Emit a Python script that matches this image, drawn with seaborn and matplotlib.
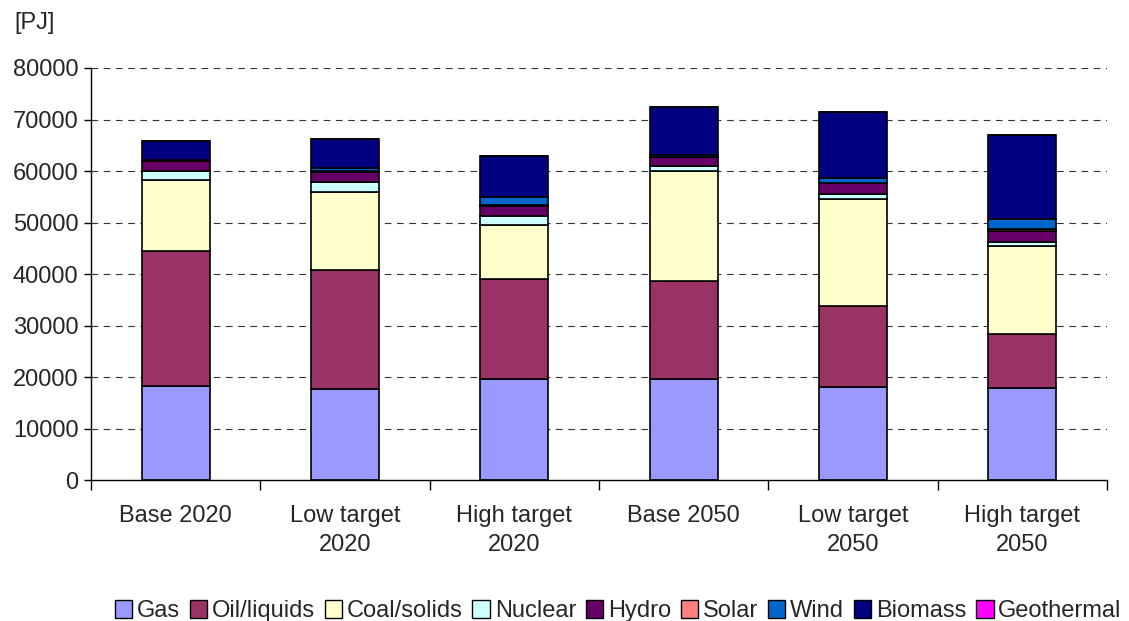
import numpy as np
import pandas as pd
import matplotlib
matplotlib.use('Agg')
import matplotlib.pyplot as plt
import seaborn as sns
from matplotlib.patches import Patch

scenarios = ["Base 2020", "Low target\n2020", "High target\n2020",
             "Base 2050", "Low target\n2050", "High target\n2050"]
fuels = ["Gas", "Oil/liquids", "Coal/solids", "Nuclear", "Hydro",
         "Solar", "Wind", "Biomass", "Geothermal"]
colors = ["#9999FF", "#993366", "#FFFFCC", "#CCFFFF", "#660066",
          "#FF8080", "#0066CC", "#000080", "#FF00FF"]

gas = [18200, 17700, 19700, 19700, 18000, 17800]
oil = [26300, 23000, 19300, 19000, 15800, 10500]
coal = [13750, 15300, 10500, 21300, 20800, 17200]
nuclear = [1750, 1800, 1800, 900, 900, 700]
hydro = [2000, 2100, 2000, 1800, 2100, 2200]
solar = [50, 50, 50, 50, 50, 300]
wind = [100, 600, 1600, 300, 1000, 1900]
biomass = [3600, 5600, 8000, 9400, 12900, 16400]
geothermal = [0, 0, 0, 0, 0, 0]

series = [gas, oil, coal, nuclear, hydro, solar, wind, biomass, geothermal]

sns.set_style("white")
plt.rcParams['font.family'] = ['Liberation Sans', 'DejaVu Sans']

fig = plt.figure(figsize=(11.29, 6.21), dpi=100)
ax = fig.add_axes([0.0806, 0.227, 0.8999, 0.6635])

bottom = np.zeros(len(scenarios))
for name, vals, col in zip(fuels, series, colors):
    df = pd.DataFrame({"scenario": scenarios, "value": vals})
    sns.barplot(data=df, x="scenario", y="value", color=col, saturation=1,
                width=0.4, bottom=bottom, edgecolor="black", linewidth=1.2,
                ax=ax, errorbar=None)
    bottom = bottom + np.array(vals)

ax.set_ylim(0, 80000)
ax.set_xlim(-0.5, len(scenarios) - 0.5)
ax.set_yticks(np.arange(0, 80001, 10000))
ax.set_xlabel("")
ax.set_ylabel("")
for y in range(10000, 80001, 10000):
    ax.axhline(y, color="#333333", linestyle=(0, (6, 5)), linewidth=0.8, zorder=0)
ax.set_axisbelow(True)

for s in ["top", "right"]:
    ax.spines[s].set_visible(False)
ax.spines["left"].set_color("black")
ax.spines["bottom"].set_color("black")
ax.spines["left"].set_linewidth(1)
ax.spines["bottom"].set_linewidth(1)

ax.tick_params(axis="y", which="major", left=True, direction="out", length=5,
               width=1, labelsize=17, color="black", pad=4)
ax.tick_params(axis="x", which="major", length=0, labelsize=17, pad=18)
for lab in ax.get_xticklabels():
    lab.set_linespacing(1.4)
ax.set_xticks(np.arange(-0.5, len(scenarios), 1.0), minor=True)
ax.tick_params(axis="x", which="minor", bottom=True, direction="out", length=7,
               width=1, color="black")

fig.text(0.013, 0.963, "[PJ]", fontsize=17, va="center", ha="left")

handles = [Patch(facecolor=c, edgecolor="black", linewidth=1) for c in colors]
fig.legend(handles, fuels, loc="lower right", bbox_to_anchor=(1.006, -0.025),
           ncol=9, frameon=False, fontsize=17, handlelength=0.75,
           handleheight=0.75, handletextpad=0.2, columnspacing=0.4,
           borderaxespad=0.2)

fig.savefig("out.png", dpi=100)
